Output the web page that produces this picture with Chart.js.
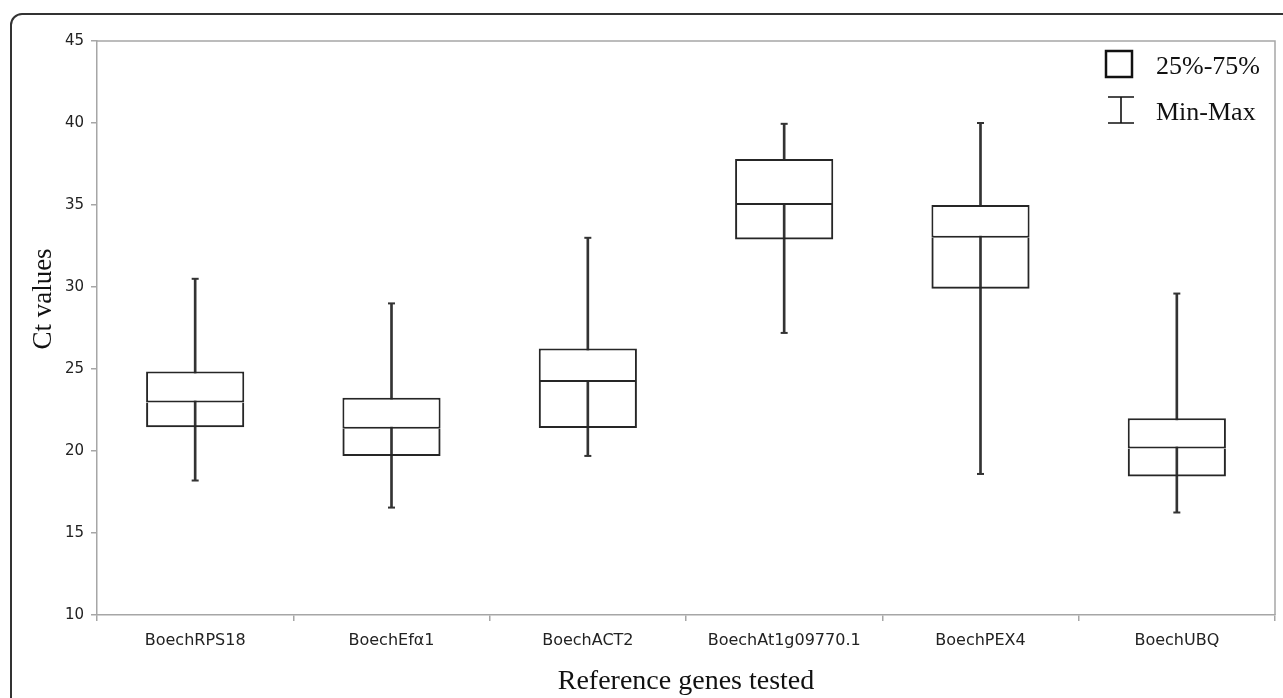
<!DOCTYPE html>
<html>
<head>
<meta charset="utf-8">
<title>Ct values of reference genes</title>
<script src="https://cdn.jsdelivr.net/npm/chart.js@4.4.1/dist/chart.umd.min.js"></script>
<style>
    body { margin: 0; background: #fff; overflow: hidden; }
    #wrap { position: relative; width: 1283px; height: 698px; overflow: hidden; }
    #frame {
        position: absolute; left: 10px; top: 13px; width: 1400px; height: 800px;
        border: 2px solid #333; border-radius: 12px;
    }
    #chartBox { position: absolute; left: 0; top: 0; }
</style>
</head>
<body>
<div id="wrap">
    <div id="frame"></div>
    <canvas id="chartBox" width="1283" height="698"></canvas>
</div>
<script>
'use strict';

const genes = ['BoechRPS18', 'BoechEfα1', 'BoechACT2', 'BoechAt1g09770.1', 'BoechPEX4', 'BoechUBQ'];
const minVals = [18.2, 16.55, 19.7, 27.2, 18.6, 16.25];
const q1Vals = [21.45, 19.7, 21.4, 32.9, 29.9, 18.45];
const medianVals = [22.95, 21.35, 24.2, 35.0, 33.0, 20.15];
const q3Vals = [24.85, 23.25, 26.25, 37.8, 35.0, 22.0];
const maxVals = [30.5, 29.0, 33.0, 39.95, 40.0, 29.6];
const yTicks = [10, 15, 20, 25, 30, 35, 40, 45];

const lineColor = '#262626';
const axisGray = '#a6a6a6';

function pairs(lo, hi) {
    return lo.map((v, i) => [v, hi[i]]);
}

// top and right edge of the plot, plus the rotated y title and the legend
const extras = {
    id: 'extras',
    afterDraw(chart) {
        const ctx = chart.ctx;
        const area = chart.chartArea;
        ctx.save();
        ctx.strokeStyle = axisGray;
        ctx.lineWidth = 1.5;
        ctx.beginPath();
        ctx.moveTo(area.left, area.top);
        ctx.lineTo(area.right, area.top);
        ctx.lineTo(area.right, area.bottom);
        ctx.stroke();

        ctx.fillStyle = '#111';
        ctx.font = '27px "Liberation Serif"';
        ctx.textAlign = 'center';
        ctx.textBaseline = 'middle';
        ctx.translate(44, 299);
        ctx.rotate(-Math.PI / 2);
        ctx.fillText('Ct values', 0, 0);
        ctx.restore();

        ctx.save();
        ctx.strokeStyle = '#111';
        ctx.lineWidth = 2.5;
        ctx.strokeRect(1106, 51, 26, 26);
        ctx.lineWidth = 1.6;
        ctx.beginPath();
        ctx.moveTo(1108, 97); ctx.lineTo(1134, 97);
        ctx.moveTo(1121, 97); ctx.lineTo(1121, 123);
        ctx.moveTo(1108, 123); ctx.lineTo(1134, 123);
        ctx.stroke();
        ctx.fillStyle = '#111';
        ctx.font = '26px "Liberation Serif"';
        ctx.textAlign = 'left';
        ctx.textBaseline = 'middle';
        ctx.fillText('25%-75%', 1156, 67);
        ctx.fillText('Min-Max', 1156, 113);
        ctx.restore();
    }
};

const ctx = document.getElementById('chartBox').getContext('2d');

new Chart(ctx, {
    type: 'bar',
    data: {
        labels: genes,
        datasets: [
            {
                label: 'upper box',
                data: pairs(medianVals, q3Vals),
                backgroundColor: '#fff',
                borderColor: lineColor,
                borderWidth: 2,
                borderSkipped: false,
                grouped: false,
                barPercentage: 0.5,
                categoryPercentage: 1.0
            },
            {
                // no top edge here: the upper box's bottom edge is the median line
                label: 'lower box',
                data: pairs(q1Vals, medianVals),
                backgroundColor: 'rgba(0,0,0,0)',
                borderColor: lineColor,
                borderWidth: 2,
                borderSkipped: 'end',
                grouped: false,
                barPercentage: 0.5,
                categoryPercentage: 1.0
            },
            {
                label: 'max cap',
                type: 'line',
                data: maxVals,
                showLine: false,
                pointStyle: 'line',
                pointRadius: 3.5,
                pointBorderWidth: 2,
                pointBorderColor: '#333'
            },
            {
                label: 'min cap',
                type: 'line',
                data: minVals,
                showLine: false,
                pointStyle: 'line',
                pointRadius: 3.5,
                pointBorderWidth: 2,
                pointBorderColor: '#333'
            },
            {
                label: 'whisker',
                data: pairs(minVals, maxVals),
                backgroundColor: '#333',
                borderWidth: 0,
                grouped: false,
                barThickness: 2
            }
        ]
    },
    options: {
        responsive: false,
        animation: false,
        layout: {padding: {left: 0, right: 8, top: 41, bottom: 0}},
        plugins: {
            legend: {display: false},
            tooltip: {enabled: false}
        },
        scales: {
            x: {
                offset: true,
                afterFit: (scale) => { scale.height = 83; },
                grid: {offset: true, drawOnChartArea: false, tickLength: 6, color: axisGray, lineWidth: 1.5},
                border: {color: axisGray, width: 1.5},
                ticks: {
                    color: '#222',
                    font: {family: '"DejaVu Sans"', size: 16},
                    padding: 10,
                    maxRotation: 0
                },
                title: {
                    display: true,
                    text: 'Reference genes tested',
                    color: '#111',
                    font: {family: '"Liberation Serif"', size: 28},
                    padding: {top: 0, bottom: 0}
                }
            },
            y: {
                min: 10,
                max: 45,
                afterFit: (scale) => { scale.width = 97; },
                afterBuildTicks: (scale) => { scale.ticks = yTicks.map(v => ({value: v})); },
                grid: {drawOnChartArea: false, tickLength: 6, color: axisGray, lineWidth: 1.5},
                border: {color: axisGray, width: 1.5},
                ticks: {
                    color: '#222',
                    font: {family: '"DejaVu Sans"', size: 15},
                    padding: 7
                }
            }
        }
    },
    plugins: [extras]
});
</script>
</body>
</html>
